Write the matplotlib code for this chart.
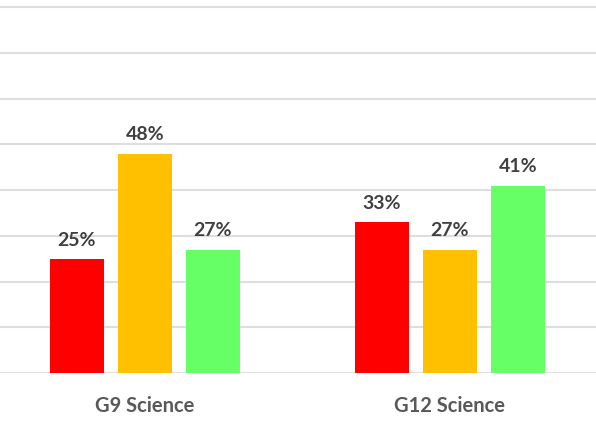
import matplotlib.pyplot as plt
import numpy as np

categories = ["G9 Science", "G12 Science"]
red_vals = [25, 33]
orange_vals = [48, 27]
green_vals = [27, 41]
colors = ["#FF0000", "#FFC000", "#66FF66"]

plt.rcParams['font.family'] = ['Lato', 'DejaVu Sans']

fig = plt.figure(figsize=(5.96, 4.27), dpi=100)
ax = fig.add_axes([0, 53 / 427, 1, 374 / 427])

x = np.arange(len(categories))
width = 0.177
step = 0.223
series = [red_vals, orange_vals, green_vals]
for i, (vals, c) in enumerate(zip(series, colors)):
    bars = ax.bar(x + (i - 1) * step, vals, width, color=c, zorder=3)
    for b, v in zip(bars, vals):
        ax.annotate(f"{v}%", (b.get_x() + b.get_width() / 2, v),
                    xytext=(0, 8), textcoords="offset points",
                    ha="center", va="bottom", fontsize=14,
                    fontweight="bold", color="#404040")

ax.set_xlim(-0.475, 1.479)
ax.set_ylim(0, 81.8)
ax.set_yticks(np.arange(0, 81, 10))
ax.yaxis.grid(True, color="#dedede", linewidth=1.5, zorder=0)
ax.tick_params(left=False, labelleft=False, bottom=False)
for s in ax.spines.values():
    s.set_visible(False)
ax.set_xticks(x)
ax.set_xticklabels(categories, fontsize=14.5, color="#595959", fontweight="bold")
ax.tick_params(axis="x", pad=12)

fig.savefig("out.png", dpi=100)
